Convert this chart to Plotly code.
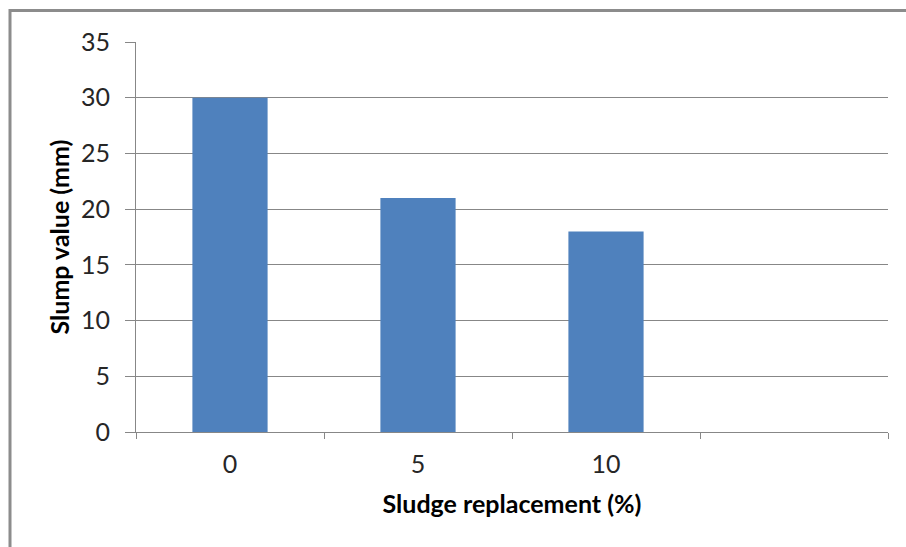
import plotly.graph_objects as go

# Slump test results
categories = ["0", "5", "10", " "]
slump_mm = [30, 21, 18, None]

x_title = "Sludge replacement (%)"
y_title = "Slump value (mm)"

W, H = 906, 547
L, R, T, B = 136, 18, 42, 115
pw, ph = W - L - R, H - T - B

def px_x(p):
    return (p - L) / pw

def px_y(p):
    return (H - B - p) / ph

grid = "#878787"
font = "Lato, Arial, sans-serif"

fig = go.Figure(
    go.Bar(
        x=categories,
        y=slump_mm,
        marker=dict(color="#4F81BD", line=dict(width=0)),
        width=0.4,
    )
)

fig.update_layout(
    width=W,
    height=H,
    margin=dict(l=L, r=R, t=T, b=B),
    paper_bgcolor="white",
    plot_bgcolor="white",
    showlegend=False,
    font=dict(family=font, color="#262626"),
    xaxis=dict(
        type="category",
        categoryorder="array",
        categoryarray=categories,
        range=[-0.5, 3.5],
        tickson="boundaries",
        ticks="outside",
        ticklen=6,
        tickcolor=grid,
        showgrid=False,
        showline=True,
        linecolor=grid,
        linewidth=1,
        tickfont=dict(size=25, family=font, color="#262626"),
        ticklabelstandoff=10,
        title=dict(text="<b>" + x_title + "</b>", font=dict(size=25, family=font, color="#000"), standoff=18),
        fixedrange=True,
    ),
    yaxis=dict(
        range=[0, 35],
        dtick=5,
        tick0=0,
        ticks="outside",
        ticklen=10,
        tickcolor=grid,
        showgrid=True,
        gridcolor=grid,
        gridwidth=1,
        showline=True,
        linecolor=grid,
        linewidth=1,
        zeroline=False,
        tickfont=dict(size=25, family=font, color="#262626"),
        ticklabelstandoff=10,
        title=dict(text="<b>" + y_title + "</b>", font=dict(size=25, family=font, color="#000"), standoff=4),
        fixedrange=True,
    ),
    shapes=[
        dict(type="line", xref="paper", yref="paper",
             x0=px_x(9), x1=px_x(W + 2), y0=px_y(10.5), y1=px_y(10.5),
             line=dict(color="#8c8c8c", width=3)),
        dict(type="line", xref="paper", yref="paper",
             x0=px_x(10), x1=px_x(10), y0=px_y(9), y1=px_y(H + 2),
             line=dict(color="#8c8c8c", width=3)),
    ],
)

fig.write_html("out.html")
